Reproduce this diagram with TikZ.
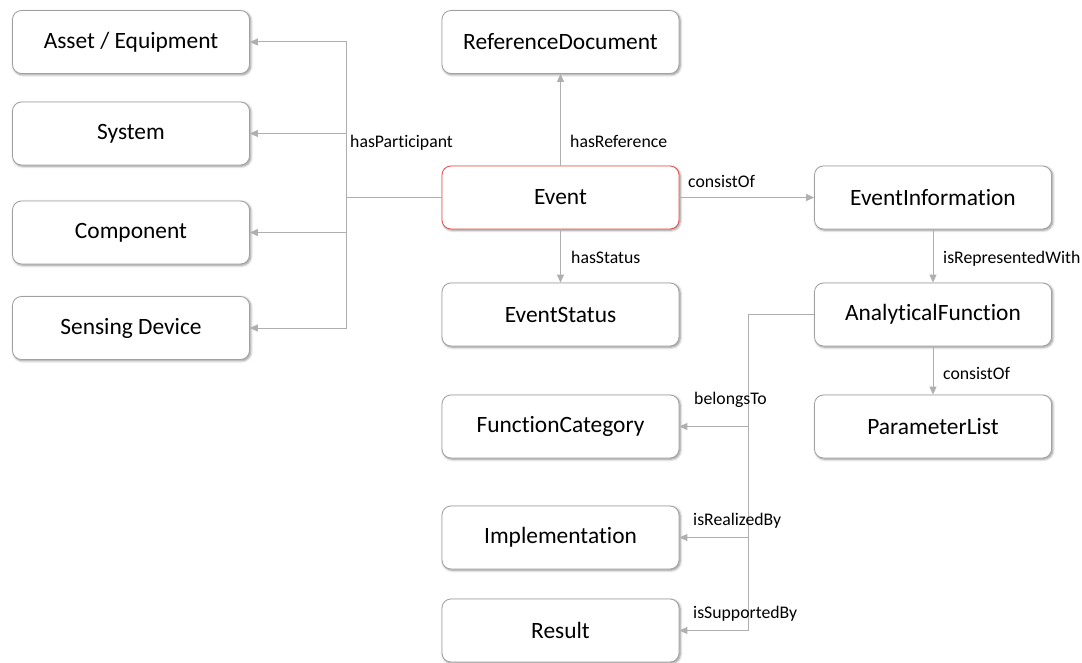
\documentclass[tikz,border=0pt]{standalone}
\usepackage{fontspec}
\setmainfont{Carlito}[Ligatures=NoCommon]
\usetikzlibrary{arrows.meta,shadows.blur}
\definecolor{linegray}{RGB}{175,175,175}
\definecolor{boxgray}{RGB}{160,160,160}
\definecolor{evred}{RGB}{225,80,80}
\tikzset{
  entity/.style={draw=boxgray, line width=0.8bp, fill=white, rounded corners=9bp,
    minimum width=237bp, minimum height=63bp, font=\fontsize{23.5}{27}\selectfont,
    blur shadow={shadow xshift=1.2bp, shadow yshift=-1.2bp, shadow blur radius=2.5bp,
      shadow opacity=45, shadow blur steps=6}},
  keyentity/.style={entity, draw=evred},
  link/.style={draw=linegray, line width=1bp},
  rel/.style={link, -{Triangle[length=8bp,width=7bp]}},
  lbl/.style={anchor=west, inner sep=0pt, font=\fontsize{17.8}{21}\selectfont}
}
\begin{document}
\begin{tikzpicture}[x=1bp,y=1bp]
\useasboundingbox (0,0) rectangle (1082,-663);

% participants on the left
\node[entity] (asset) at (131,-42) {Asset / Equipment};
\node[entity] (system) at (131,-133.5) {System};
\node[entity] (component) at (131,-232.5) {Component};
\node[entity] (sensing) at (131,-328) {Sensing Device};

% central column
\node[entity] (refdoc) at (560.5,-42) {ReferenceDocument};
\node[keyentity] (event) at (560.5,-197.5) {Event};
\node[entity] (status) at (560.5,-314.5) {EventStatus};
\node[entity] (funccat) at (560.5,-426.5) {FunctionCategory};
\node[entity] (impl) at (560.5,-537.5) {Implementation};
\node[entity] (result) at (560.5,-630.5) {Result};

% right column
\node[entity] (evinfo) at (933,-197.5) {EventInformation};
\node[entity] (analytic) at (933,-314.5) {AnalyticalFunction};
\node[entity] (param) at (933,-426.5) {ParameterList};

% hasParticipant bus
\coordinate (pbus) at (346,-197.5);
\draw[link] (event.west) -- (pbus);
\draw[rel] (pbus) |- (asset.east);
\draw[rel] (pbus) |- (system.east);
\draw[rel] (pbus) |- (component.east);
\draw[rel] (pbus) |- (sensing.east);

% direct relations of the event
\draw[rel] (event.north) -- (refdoc.south);
\draw[rel] (event.south) -- (status.north);
\draw[rel] (event.east) -- (evinfo.west);
\draw[rel] (evinfo.south) -- (analytic.north);
\draw[rel] (analytic.south) -- (param.north);

% analytical function bus
\coordinate (abus) at (748,-314.5);
\draw[link] (analytic.west) -- (abus);
\draw[rel] (abus) |- (funccat.east);
\draw[rel] (abus) |- (impl.east);
\draw[rel] (abus) |- (result.east);

% relation labels
\node[lbl] (l1) at (350,-143) {hasParticipant};
\node[lbl] (l2) at (570,-141) {hasReference};
\node[lbl] (l3) at (571,-257) {hasStatus};
\node[lbl] (l4) at (688,-181) {consistOf};
\node[lbl] (l5) at (943,-259) {isRepresentedWith};
\node[lbl] (l6) at (943,-373) {consistOf};
\node[lbl] (l7) at (694,-400) {belongsTo};
\node[lbl] (l8) at (693,-521) {isRealizedBy};
\node[lbl] (l9) at (693,-614) {isSupportedBy};
\end{tikzpicture}
\end{document}
